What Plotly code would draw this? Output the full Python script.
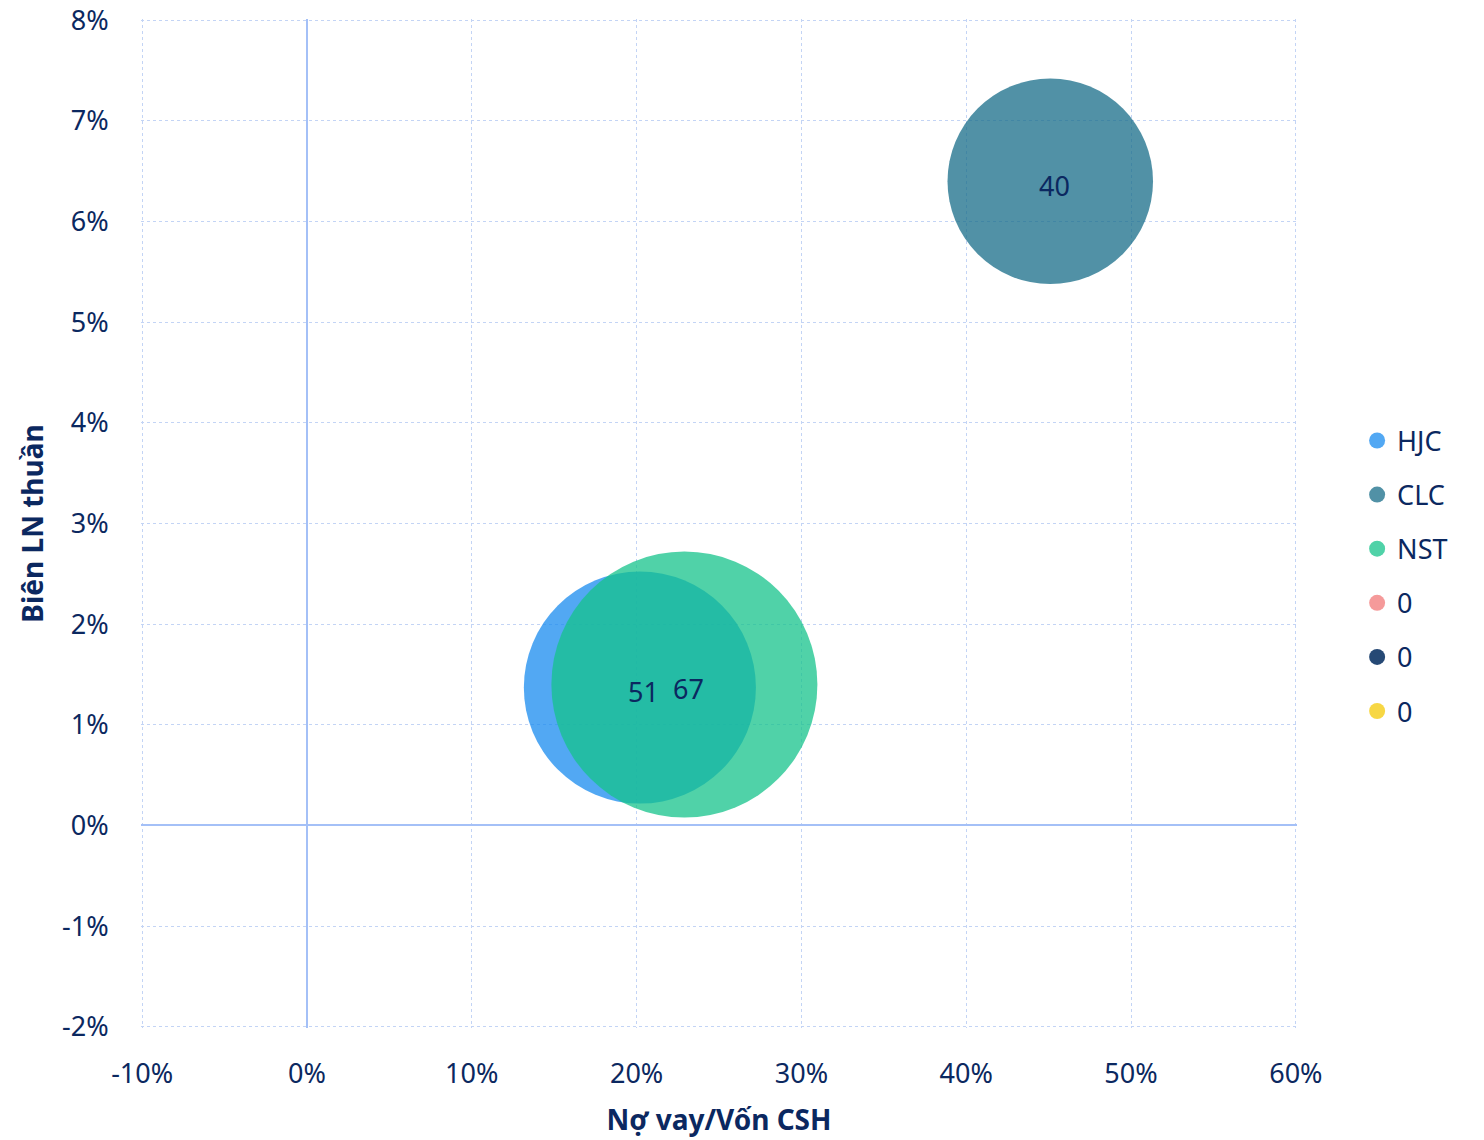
import plotly.graph_objects as go

# ---- data ----
names = ["HJC", "CLC", "NST", "0", "0", "0"]
x_vals = [20.2, 45.1, 22.9]          # Nợ vay/Vốn CSH (%)
y_vals = [1.37, 6.40, 1.40]          # Biên LN thuần (%)
sizes = [51, 40, 67]                 # bubble size values (labels)
x_ticks = [-10, 0, 10, 20, 30, 40, 50, 60]
y_ticks = [-2, -1, 0, 1, 2, 3, 4, 5, 6, 7, 8]

colors = ["#188BEF", "#176C88", "#16C38B", "#F48F8F", "#0E3566", "#F6D330"]
navy = "#0B2860"
font_family = "Noto Sans"

max_diam = 266.0
sizeref = 2.0 * max(sizes) / (max_diam ** 2)

fig = go.Figure()
for i, nm in enumerate(names):
    if i < len(sizes):
        fig.add_trace(go.Scatter(
            x=[x_vals[i]], y=[y_vals[i]], name=nm, mode="markers",
            marker=dict(size=[sizes[i]], sizemode="area", sizeref=sizeref,
                        color=colors[i], opacity=0.75, line=dict(width=0)),
            legendgroup=f"g{i}", hoverinfo="skip",
        ))
    else:
        fig.add_trace(go.Scatter(
            x=[None], y=[None], name=nm, mode="markers",
            marker=dict(size=16, color=colors[i], opacity=0.9, line=dict(width=0)),
            legendgroup=f"g{i}", hoverinfo="skip",
        ))

# labels on top of all bubbles
for xv, yv, s in zip(x_vals, y_vals, sizes):
    fig.add_annotation(
        x=xv, y=yv, xref="x", yref="y", text=str(s), showarrow=False,
        xshift=4, yshift=-4,
        font=dict(family=font_family, size=27, color=navy),
    )

grid_color = "#C3D4F5"
zero_color = "#A4C0F7"

fig.update_layout(
    width=1484, height=1140,
    margin=dict(l=133, r=195, t=11, b=120),
    paper_bgcolor="white", plot_bgcolor="white",
    font=dict(family=font_family, size=27, color=navy),
    showlegend=True,
    legend=dict(x=1.052, y=0.448, xanchor="left", yanchor="middle",
                font=dict(family=font_family, size=27, color=navy),
                itemsizing="trace", tracegroupgap=16, itemwidth=30,
                bgcolor="rgba(0,0,0,0)"),
    xaxis=dict(
        range=[-10.07, 60.07], tickvals=x_ticks, ticktext=[f"{v}%" for v in x_ticks],
        showgrid=True, gridcolor=grid_color, griddash="dot", gridwidth=1,
        zeroline=True, zerolinecolor=zero_color, zerolinewidth=2,
        showline=False, ticks="outside", ticklen=22, tickcolor="rgba(0,0,0,0)",
        tickfont=dict(size=27, color=navy), automargin=False, ticklabeloverflow="allow",
        title=dict(text="<b>Nợ vay/Vốn CSH</b>", font=dict(size=28, color=navy), standoff=19),
        fixedrange=True,
    ),
    yaxis=dict(
        range=[-2.012, 8.012], tickvals=y_ticks, ticktext=[f"{v}%" for v in y_ticks],
        showgrid=True, gridcolor=grid_color, griddash="dot", gridwidth=1,
        zeroline=True, zerolinecolor=zero_color, zerolinewidth=2,
        showline=False, ticks="outside", ticklen=26, tickcolor="rgba(0,0,0,0)",
        tickfont=dict(size=27, color=navy), automargin=False, ticklabeloverflow="allow",
        title=dict(text="<b>Biên LN thuần</b>", font=dict(size=28, color=navy), standoff=10),
        fixedrange=True,
    ),
)

fig.write_html("out.html")
